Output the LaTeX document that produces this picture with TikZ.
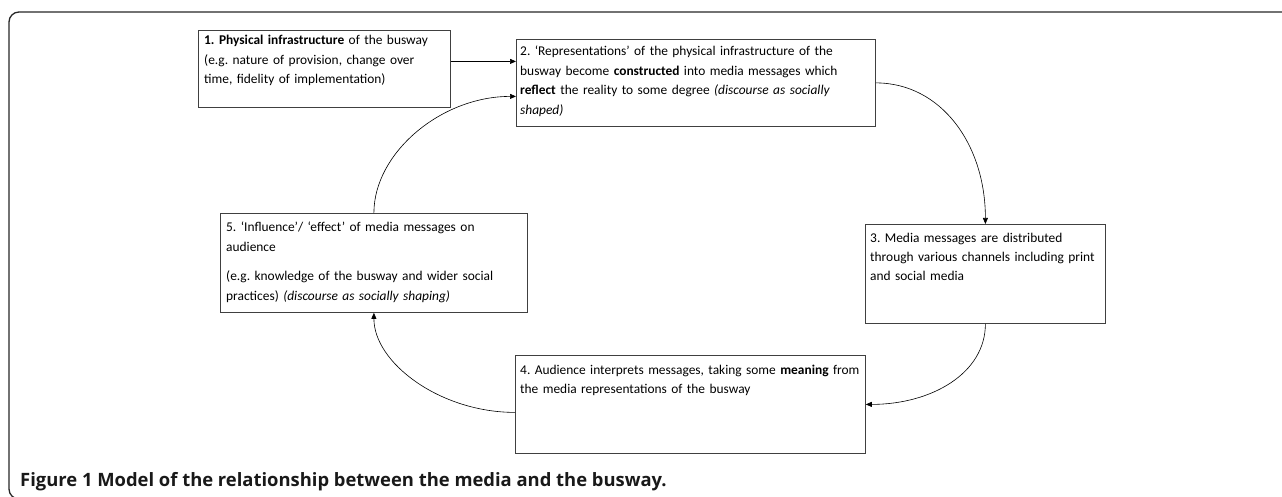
\documentclass[tikz,border=0pt]{standalone}
\usepackage{fontspec}
\setmainfont{Carlito}
\newfontfamily\capfont{Open Sans}
\usetikzlibrary{arrows.meta,calc}
\begin{document}
\frenchspacing
\begin{tikzpicture}[x=1pt,y=-1pt,
  box/.style={draw=black!75, line width=0.8pt, inner sep=0pt, anchor=north west},
  txt/.style={inner sep=0pt, anchor=base west, align=left, font=\fontsize{13.4}{19.5}\selectfont, text=black},
  arr/.style={line width=0.6pt, -{Triangle[length=6pt,width=5pt]}},
  outerframe/.style={line width=1.3pt, draw=black!85, rounded corners=10pt},
  captxt/.style={anchor=base west, inner sep=0pt, font=\capfont\bfseries\fontsize{18.4}{22}\selectfont, text=black!90}
]
\useasboundingbox (0,0) rectangle (1282,497);
\draw[outerframe] (1290,12) -- (9,12) -- (9,499) -- (40,499);

\node[box, minimum width=252pt, minimum height=77pt] (b1) at (198,30) {};
\node[box, minimum width=359pt, minimum height=87pt] (b2) at (516,39) {};
\node[box, minimum width=240pt, minimum height=99pt] (b3) at (865,224) {};
\node[box, minimum width=350pt, minimum height=98pt] (b4) at (515,355) {};
\node[box, minimum width=307pt, minimum height=99pt] (b5) at (220,213) {};

\node[txt, text width=250pt] (t1) at (204,45) {\textbf{1. Physical infrastructure} of the busway\\(e.g. nature of provision, change over\\time, fidelity of implementation)};
\node[txt, text width=358pt] (t2) at (520,56) {2. ‘Representations’ of the physical infrastructure of the\\busway become \textbf{constructed} into media messages which\\\textbf{reflect} the reality to some degree \textit{(discourse as socially}\\\textit{shaped)}};
\node[txt, text width=238pt] (t3) at (870,242) {3. Media messages are distributed\\through various channels including print\\and social media};
\node[txt, text width=348pt] (t4) at (520,374) {4. Audience interprets messages, taking some \textbf{meaning} from\\the media representations of the busway};
\node[txt, text width=306pt] (t5) at (226,232) {5. ‘Influence’/ ‘effect’ of media messages on\\audience\\[10pt](e.g. knowledge of the busway and wider social\\practices) \textit{(discourse as socially shaping)}};

\draw[arr] ([yshift=7.5pt]b1.east) -- ([yshift=7.5pt]b1.east -| b2.west);
\draw[arr] (b5.north) .. controls +(0,-60) and +(-75,0) .. ([yshift=-13.5pt]b2.west);
\draw[arr] (b2.east) .. controls +(65,0) and +(0,-80) .. (b3.north);
\draw[arr] (b3.south) .. controls +(0,50) and +(65,0) .. (b4.east);
\draw[arr] ([yshift=-8pt]b4.west) .. controls +(-75,0) and +(0,50) .. (b5.south);

\node[captxt] (c) at (20,486) {Figure 1 Model of the relationship between the media and the busway.};
\end{tikzpicture}
\end{document}
